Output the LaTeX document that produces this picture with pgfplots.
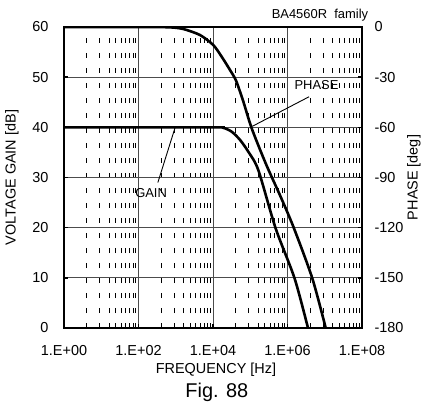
\documentclass[border=0pt]{standalone}
\usepackage{pgfplots}
\pgfplotsset{compat=1.18}
\usepackage{fontspec}
\setmainfont{Liberation Sans}
\newcommand{\tfont}{\fontsize{14.5}{17}\selectfont}
\begin{document}
\begin{tikzpicture}
\begin{axis}[
  name=main,
  scale only axis, width=298bp, height=301bp,
  xmode=log, xmin=1, xmax=1e8, ymin=0, ymax=60,
  axis line style={line width=2.6bp},
  xtick={1,100,10000,1000000,100000000},
  xticklabels={1.E+00,1.E+02,1.E+04,1.E+06,1.E+08},
  minor xtick={4.0,9.12,16.2,24.5,33.9,44.7,57.5,70.8,85.1,
               4.0e2,9.12e2,16.2e2,24.5e2,33.9e2,44.7e2,57.5e2,70.8e2,85.1e2,
               4.0e4,9.12e4,16.2e4,24.5e4,33.9e4,44.7e4,57.5e4,70.8e4,85.1e4,
               4.0e6,9.12e6,16.2e6,24.5e6,33.9e6,44.7e6,57.5e6,70.8e6,85.1e6},
  ytick={0,10,20,30,40,50,60},
  yticklabels={0,10,20,30,40,50,60},
  xtick pos=bottom, ytick pos=left,
  major tick length=4bp, minor tick length=0pt,
  tick style={line width=1.5bp, black},
  grid=both,
  major grid style={line width=0.8bp, black!70},
  minor grid style={line width=0.8bp, black, dash pattern=on 5bp off 10bp},
  ticklabel style={font=\tfont},
  xticklabel style={yshift=-14bp},
  yticklabel style={xshift=-12bp},
  clip=false,
]
\addplot[black, line width=2.6bp, smooth, tension=0.45] table {
x y
1 40
10000 40
18900 39.9
31780 39.13
53090 37.5
88720 35.14
164400 31.49
478630 19.9
1548817 9.9
3548134 0
};
\draw[black, line width=0.9bp] (axis cs:955,39.9) -- (axis cs:331,29.0);
\node[font=\fontsize{13}{15}\selectfont] at (axis cs:218,26.9) {GAIN};
\draw[black, line width=0.9bp] (axis cs:3.8e6,46.1) -- (axis cs:1.135e5,40.2);
\node[font=\fontsize{13}{15}\selectfont] at (axis cs:6.0e6,48.4) {PHASE};
\node[font=\fontsize{13}{15}\selectfont] at ([yshift=12bp]axis description cs:0.859,1) {BA4560R\ \ family};
\node[font=\tfont] at ([yshift=-42bp]axis description cs:0.51,0) {FREQUENCY [Hz]};
\node[font=\fontsize{20}{24}\selectfont] at ([yshift=-64bp]axis description cs:0.513,0) {Fig. 88};
\node[font=\tfont, rotate=90] at ([xshift=-52bp]axis description cs:0,0.5) {VOLTAGE GAIN [dB]};
\node[font=\tfont, rotate=90] at ([xshift=52bp]axis description cs:1,0.5) {PHASE [deg]};
\coordinate (pl) at (axis description cs:0,0);
\end{axis}
\begin{axis}[
  scale only axis, width=298bp, height=301bp,
  xmode=log, xmin=1, xmax=1e8, ymin=-180, ymax=0,
  axis x line=none, axis y line*=right,
  axis line style={line width=2.6bp},
  ytick={-180,-150,-120,-90,-60,-30,0},
  yticklabels={-180,-150,-120,-90,-60,-30,0},
  major tick length=4bp,
  tick style={line width=1.5bp, black},
  ticklabel style={font=\tfont},
  yticklabel style={xshift=9bp},
]
\addplot[black, line width=2.6bp, smooth, tension=0.45] table {
x y
1 0
200 -0.1
701.5 -0.2
1596 -1.2
4477 -4.8
10186 -10.8
17140 -17.8
28576 -25.7
41400 -32.0
65013 -44.5
109396 -60.6
264850 -82.0
669885 -102.0
1492794 -120.4
4634469 -150.3
10617000 -180
};
\end{axis}
\pgfresetboundingbox
\path[use as bounding box] ([shift={(-64bp,-77bp)}]pl) rectangle ([shift={(364bp,328bp)}]pl);
\end{tikzpicture}
\end{document}
